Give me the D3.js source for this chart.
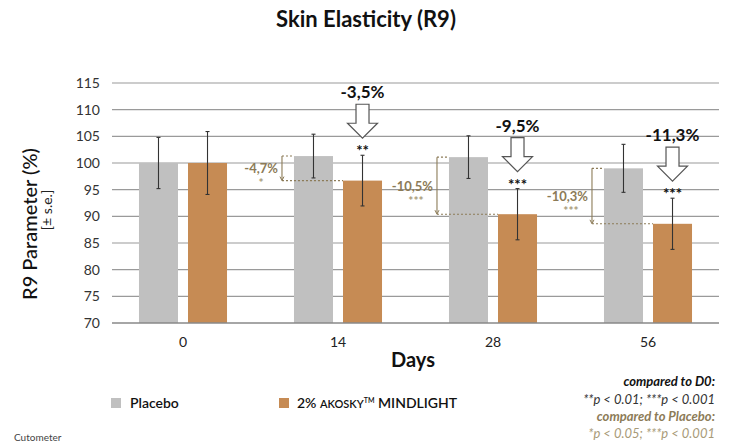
<!DOCTYPE html>
<html>
<head>
<meta charset="utf-8">
<script src="https://cdn.jsdelivr.net/npm/d3@7"></script>
<style>
  body { margin: 0; background: #fff; }
  svg { display: block; font-family: Lato, "Open Sans", sans-serif; }
</style>
</head>
<body>
<div id="chart"></div>
<script>
// Data
const days = ["0", "14", "28", "56"];
const series = ["Placebo", "Active"];
const placebo = [100, 101.3, 101.1, 99.0];
const placeboErr = [4.8, 4.1, 4.0, 4.5];
const active = [100, 96.7, 90.4, 88.6];
const activeErr = [5.9, 4.75, 4.8, 4.8];
const d0Change = [null, "-3,5%", "-9,5%", "-11,3%"];
const d0Sig = [null, "**", "***", "***"];
const plcChange = [null, "-4,7%", "-10,5%", "-10,3%"];
const plcSig = [null, "*", "***", "***"];
const yTicks = [70, 75, 80, 85, 90, 95, 100, 105, 110, 115];

const width = 731, height = 443;
const colors = { Placebo: "#c0c0c0", Active: "#c68b54" };
const olive = "#8c7b57";

const svg = d3.select("#chart").append("svg")
    .attr("width", width)
    .attr("height", height);

const y = d3.scaleLinear().domain([70, 115]).range([323, 83]);
const x0 = d3.scaleBand().domain(days).range([105.5, 725.5])
    .paddingInner(0.432).paddingOuter(0.216);
const x1 = d3.scaleBand().domain(series).range([0, x0.bandwidth()])
    .paddingInner(0.204);

const plotLeft = 112, plotRight = 719;

// title
svg.append("text")
    .attr("x", 366).attr("y", 27)
    .attr("text-anchor", "middle")
    .style("font-size", "22px").style("font-weight", "bold")
    .attr("fill", "#111")
    .text("Skin Elasticity (R9)");

// grid
svg.append("g")
    .selectAll("line")
    .data(yTicks.filter(d => d > 70))
    .join("line")
    .attr("x1", plotLeft).attr("x2", plotRight)
    .attr("y1", d => y(d)).attr("y2", d => y(d))
    .attr("stroke", "#9a9a9a").attr("stroke-width", 1.2);

// y axis labels
const yAxis = d3.axisLeft(y).tickValues(yTicks).tickSize(0).tickPadding(12);
svg.append("g")
    .attr("transform", `translate(${plotLeft},0)`)
    .call(yAxis)
    .call(g => g.select(".domain").remove())
    .call(g => g.selectAll("text").style("font-size", "14px").attr("fill", "#333")
        .style("font-family", "Lato, sans-serif"));

// y title
svg.append("text")
    .attr("transform", "translate(37,224) rotate(-90)")
    .attr("text-anchor", "middle")
    .style("font-size", "20px").style("font-weight", "500")
    .attr("fill", "#111")
    .text("R9 Parameter (%)");
svg.append("text")
    .attr("transform", "translate(52,210) rotate(-90)")
    .attr("text-anchor", "middle")
    .style("font-size", "14px")
    .attr("fill", "#222")
    .text("[± s.e.]");

// bars
const rows = days.map((d, i) => ({
    day: d,
    vals: [
        { key: "Placebo", v: placebo[i], e: placeboErr[i] },
        { key: "Active", v: active[i], e: activeErr[i] }
    ]
}));

const groups = svg.append("g")
    .selectAll("g")
    .data(rows)
    .join("g")
    .attr("transform", d => `translate(${x0(d.day)},0)`);

groups.selectAll("rect")
    .data(d => d.vals)
    .join("rect")
    .attr("x", d => x1(d.key))
    .attr("width", x1.bandwidth())
    .attr("y", d => y(d.v))
    .attr("height", d => y(70) - y(d.v))
    .attr("fill", d => colors[d.key]);

// error bars
const eb = groups.selectAll("g.err")
    .data(d => d.vals)
    .join("g")
    .attr("class", "err")
    .attr("stroke", "#333").attr("stroke-width", 1.1);
eb.append("line")
    .attr("x1", d => x1(d.key) + x1.bandwidth() / 2)
    .attr("x2", d => x1(d.key) + x1.bandwidth() / 2)
    .attr("y1", d => y(d.v + d.e)).attr("y2", d => y(d.v - d.e));
eb.append("line")
    .attr("x1", d => x1(d.key) + x1.bandwidth() / 2 - 2)
    .attr("x2", d => x1(d.key) + x1.bandwidth() / 2 + 2)
    .attr("y1", d => y(d.v + d.e)).attr("y2", d => y(d.v + d.e));
eb.append("line")
    .attr("x1", d => x1(d.key) + x1.bandwidth() / 2 - 2)
    .attr("x2", d => x1(d.key) + x1.bandwidth() / 2 + 2)
    .attr("y1", d => y(d.v - d.e)).attr("y2", d => y(d.v - d.e));

// x axis
svg.append("line")
    .attr("x1", plotLeft).attr("x2", plotRight)
    .attr("y1", y(70)).attr("y2", y(70))
    .attr("stroke", "#888").attr("stroke-width", 1.3);

const xAxis = d3.axisBottom(x0).tickSize(0).tickPadding(14);
svg.append("g")
    .attr("transform", `translate(0,${y(70)})`)
    .call(xAxis)
    .call(g => g.select(".domain").remove())
    .call(g => g.selectAll("text").style("font-size", "14px").attr("fill", "#222")
        .style("font-family", "Lato, sans-serif"));

svg.append("text")
    .attr("x", 413).attr("y", 367)
    .attr("text-anchor", "middle")
    .style("font-size", "20px").style("font-weight", "bold")
    .attr("fill", "#111")
    .text("Days");

// annotations vs D0: arrows above active bars
days.forEach((d, i) => {
    if (!d0Change[i]) return;
    const cx = x0(d) + x1("Active") + x1.bandwidth() / 2;
    const errTop = y(active[i] + activeErr[i]);
    const tip = errTop - 17;
    const top = tip - 34;
    const sb = tip - 15;
    const aw = 15, sw = 6.5;
    svg.append("path")
        .attr("d", `M${cx - sw},${top} L${cx + sw},${top} L${cx + sw},${sb} L${cx + aw},${sb} L${cx},${tip} L${cx - aw},${sb} L${cx - sw},${sb} Z`)
        .attr("fill", "#fff").attr("stroke", "#555").attr("stroke-width", 1.2);
    svg.append("text")
        .attr("x", cx).attr("y", top - 6)
        .attr("text-anchor", "middle")
        .style("font-size", "17px").style("font-weight", "bold")
        .attr("fill", "#111")
        .text(d0Change[i]);
    svg.append("text")
        .attr("x", cx).attr("y", errTop + 1)
        .attr("text-anchor", "middle")
        .style("font-size", "15px").style("font-weight", "bold")
        .attr("fill", "#111")
        .text(d0Sig[i]);
});

// annotations vs placebo: brackets
days.forEach((d, i) => {
    if (!plcChange[i]) return;
    const pl = x0(d) + x1("Placebo");
    const al = x0(d) + x1("Active");
    const bx = pl - 12;
    const yt = y(placebo[i]), yb = y(active[i]);
    const g = svg.append("g").attr("stroke", olive).attr("fill", "none");
    g.append("line").attr("x1", bx).attr("x2", bx).attr("y1", yt).attr("y2", yb - 1)
        .attr("stroke-width", 1.1);
    g.append("path").attr("d", `M${bx - 2},${yb - 4} L${bx},${yb} L${bx + 2},${yb - 4}`)
        .attr("stroke-width", 1);
    g.append("line").attr("x1", bx).attr("x2", pl).attr("y1", yt).attr("y2", yt)
        .attr("stroke-dasharray", "2,2").attr("stroke-width", 1.1);
    g.append("line").attr("x1", bx).attr("x2", al).attr("y1", yb).attr("y2", yb)
        .attr("stroke-dasharray", "2,2").attr("stroke-width", 1.1);
    const mid = (yt + yb) / 2;
    svg.append("text")
        .attr("x", bx - 4).attr("y", mid + 5)
        .attr("text-anchor", "end")
        .style("font-size", "13px").style("font-weight", "bold")
        .attr("fill", olive)
        .text(plcChange[i]);
    svg.append("text")
        .attr("x", bx - 21).attr("y", mid + 19)
        .attr("text-anchor", "middle")
        .style("font-size", "12px").style("font-weight", "bold")
        .attr("fill", "#a89a78")
        .text(plcSig[i]);
});

// legend
const legend = svg.append("g");
legend.append("rect").attr("x", 111).attr("y", 398).attr("width", 10).attr("height", 10)
    .attr("fill", colors.Placebo);
legend.append("text").attr("x", 130).attr("y", 408)
    .style("font-size", "14px").style("font-weight", "600").attr("fill", "#111")
    .text("Placebo");
legend.append("rect").attr("x", 279).attr("y", 398).attr("width", 10).attr("height", 10)
    .attr("fill", colors.Active);
const lt = legend.append("text").attr("x", 297).attr("y", 408)
    .style("font-size", "14px").style("font-weight", "600").attr("fill", "#111");
lt.append("tspan").text("2% ");
lt.append("tspan").style("font-size", "11px").text("AKOSKY");
lt.append("tspan").style("font-size", "7px").attr("dy", -5).text("TM");
lt.append("tspan").attr("dy", 5).text(" MINDLIGHT");

// significance note
const note = [
    { t: "compared to D0:", y: 386, c: "#111", w: "bold" },
    { t: "**p < 0.01; ***p < 0.001", y: 404, c: "#333", w: "normal" },
    { t: "compared to Placebo:", y: 421, c: olive, w: "bold" },
    { t: "*p < 0.05; ***p < 0.001", y: 438, c: "#a89a78", w: "normal" }
];
svg.append("g").selectAll("text").data(note).join("text")
    .attr("x", 715).attr("y", d => d.y)
    .attr("text-anchor", "end")
    .style("font-size", "13px").style("font-style", "italic")
    .style("font-weight", d => d.w)
    .attr("fill", d => d.c)
    .text(d => d.t);

svg.append("text")
    .attr("x", 14).attr("y", 441)
    .style("font-size", "10px").attr("fill", "#444")
    .text("Cutometer");
</script>
</body>
</html>
